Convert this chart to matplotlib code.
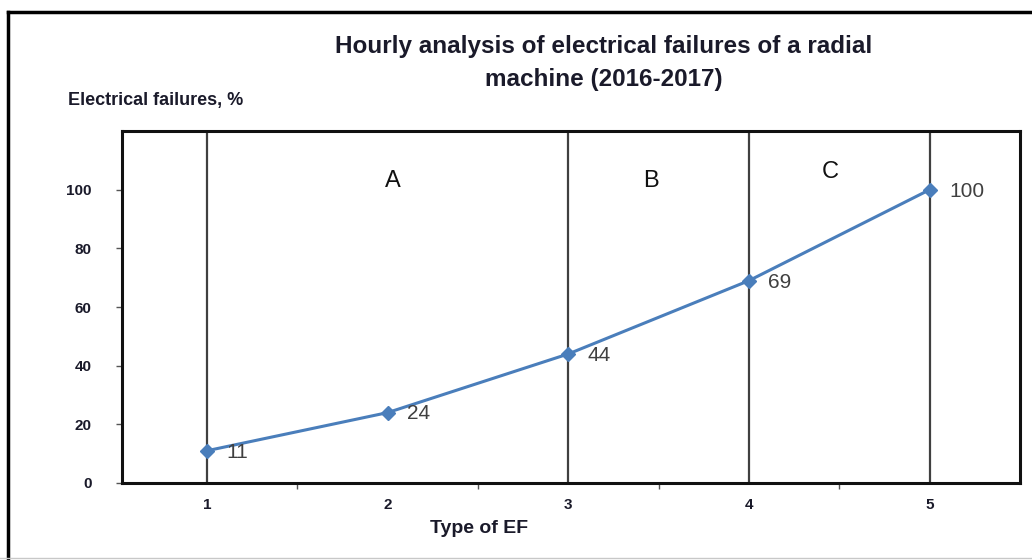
import matplotlib
matplotlib.use("Agg")
import matplotlib.pyplot as plt
from matplotlib.lines import Line2D

# ----- DATA -----
ef_types = [1, 2, 3, 4, 5]
failures_pct = [11, 24, 44, 69, 100]
zone_bounds = [1, 3, 4, 5]
zone_names = ["A", "B", "C"]
zone_label_x = [2.03, 3.46, 4.45]
zone_label_y = [103, 103, 106]
y_ticks = [0, 20, 40, 60, 80, 100]

plt.rcParams["font.family"] = ["Liberation Sans", "DejaVu Sans"]

fig = plt.figure(figsize=(10.32, 5.6), dpi=100)
ax = fig.add_axes([0.1182, 0.1375, 0.8702, 0.6285])

# zone separators
for xb in zone_bounds:
    ax.axvline(xb, color="#404040", lw=1.6, zorder=1)

# main line
ax.plot(ef_types, failures_pct, color="#4A7EBB", lw=2.2, marker="D",
        markersize=7.5, zorder=3)

for x, y in zip(ef_types, failures_pct):
    ax.annotate(str(y), (x, y), xytext=(14, -1), textcoords="offset points",
                ha="left", va="center", fontsize=15, color="#404040")

for name, x, y in zip(zone_names, zone_label_x, zone_label_y):
    ax.text(x, y, name, ha="center", va="center", fontsize=17, color="#111111")

ax.set_xlim(0.53, 5.5)
ax.set_ylim(0, 120)

ax.set_yticks(y_ticks)
ax.set_yticklabels([str(v) for v in y_ticks], fontsize=11, fontweight="bold",
                   color="#1a1a2a")
ax.tick_params(axis="y", length=4, width=1, color="#555555", pad=18)

ax.set_xticks(ef_types)
ax.set_xticklabels([str(v) for v in ef_types], fontsize=11, fontweight="bold",
                   color="#1a1a2a")
ax.set_xticks([1.5, 2.5, 3.5, 4.5], minor=True)
ax.tick_params(axis="x", which="major", length=0, pad=11)
ax.tick_params(axis="x", which="minor", length=4, width=1, color="#555555")

for side in ["left", "right", "top", "bottom"]:
    ax.spines[side].set_linewidth(2.2)
    ax.spines[side].set_color("#111111")

ax.set_xlabel("Type of EF", fontsize=14, fontweight="bold", color="#1a1a2a")
ax.xaxis.set_label_coords(0.398, -0.105)

fig.text(68 / 1032, 1 - 100 / 560, "Electrical failures, %", fontsize=13,
         fontweight="bold", color="#1a1a2a", ha="left", va="center")

fig.text(604 / 1032, 1 - 47 / 560,
         "Hourly analysis of electrical failures of a radial", fontsize=17.5,
         fontweight="bold", color="#1a1a2a", ha="center", va="center")
fig.text(604 / 1032, 1 - 80 / 560, "machine (2016-2017)", fontsize=17.5,
         fontweight="bold", color="#1a1a2a", ha="center", va="center")

# outer frame
fig.add_artist(Line2D([8 / 1032, 8 / 1032], [0, 1 - 12 / 560], color="black",
                      lw=2.5, transform=fig.transFigure))
fig.add_artist(Line2D([8 / 1032, 1], [1 - 12 / 560, 1 - 12 / 560],
                      color="black", lw=2.5, transform=fig.transFigure))
fig.add_artist(Line2D([0, 1], [2 / 560, 2 / 560], color="#c8c8c8", lw=1,
                      transform=fig.transFigure))

fig.savefig("out.png", dpi=100)
